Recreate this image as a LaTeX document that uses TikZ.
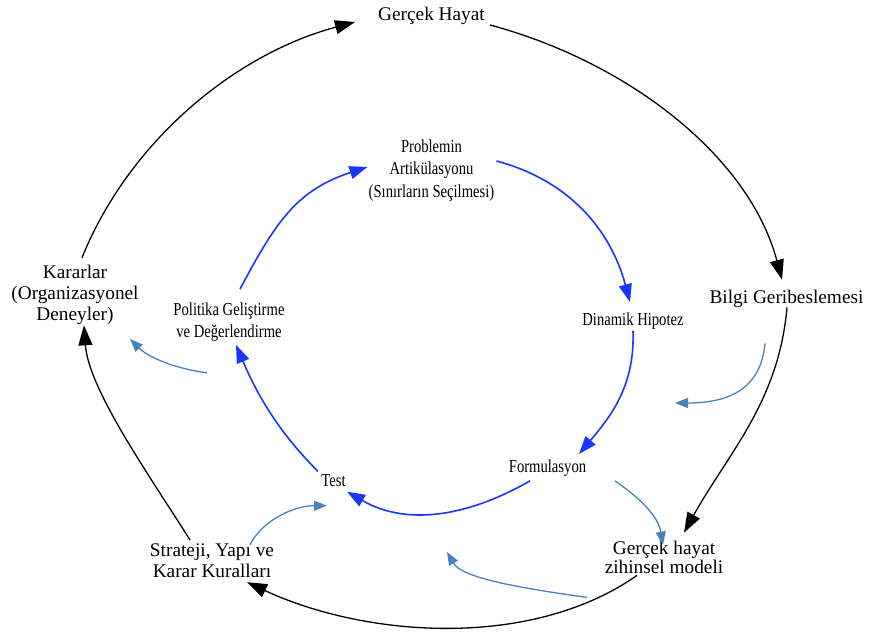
\documentclass[tikz,border=0pt]{standalone}
\usepackage{fontspec}
\setmainfont{Liberation Serif}
\newfontfamily\narrowserif[FakeStretch=0.8]{Liberation Serif}
\usetikzlibrary{arrows.meta}

\definecolor{loopblue}{RGB}{25,55,255}
\definecolor{feedblue}{RGB}{74,130,192}

\tikzset{
  outerlab/.style={font={\fontsize{19.3}{21}\selectfont}, align=center, inner sep=0pt},
  innerlab/.style={font={\narrowserif\fontsize{18.3}{22.5}\selectfont}, align=center, inner sep=0pt},
  outerloop/.style={draw=black, line width=1.3pt, -{Triangle[length=20pt,width=14pt]}},
  innerloop/.style={draw=loopblue, line width=1.6pt, -{Triangle[length=18pt,width=13pt]}},
  feedback/.style={draw=feedblue, line width=1.3pt, -{Triangle[length=13pt,width=10pt]}}
}

\begin{document}
\begin{tikzpicture}[x=1pt,y=1pt]
\useasboundingbox (0,0) rectangle (869,641);

% outer loop labels
\node[outerlab] (hayat)    at (431.5,625.5) {Gerçek Hayat};
\node[outerlab] (bilgi)    at (786.5,342.5) {Bilgi Geribeslemesi};
\node[outerlab, font={\fontsize{19.3}{19}\selectfont}] (zihin) at (664,84.1) {Gerçek hayat\\zihinsel modeli};
\node[outerlab] (strateji) at (212,80) {Strateji, Yapı ve\\Karar Kuralları};
\node[outerlab] (kararlar) at (75,346.5) {Kararlar\\(Organizasyonel\\Deneyler)};

% inner loop labels
\node[innerlab] (problem)  at (431.5,470.6) {Problemin\\Artikülasyonu\\(Sınırların Seçilmesi)};
\node[innerlab] (dinamik)  at (633,320) {Dinamik Hipotez};
\node[innerlab] (formul)   at (547.5,173) {Formulasyon};
\node[innerlab] (test)     at (333.5,160.6) {Test};
\node[innerlab] (politika) at (229,318.7) {Politika Geliştirme\\ve Değerlendirme};

% free ends of the feedback arrows
\coordinate (fbA) at (675,238);
\coordinate (fbB) at (447,89);
\coordinate (fbC) at (130,302);

% outer black loop
\draw[outerloop] ([shift={(7,6.8)}]kararlar.north)
  to[out=68,in=195,out distance=125pt,in distance=125pt] ([shift={(-23,-6.5)}]hayat.west);
\draw[outerloop] ([shift={(5,-9.5)}]hayat.east)
  to[out=-15,in=105,out distance=140pt,in distance=130pt] ([shift={(-4.5,9.8)}]bilgi.north);
\draw[outerloop] ([shift={(0.5,0)}]bilgi.south)
  to[out=-95,in=61,out distance=95pt,in distance=90pt] ([shift={(20,7.8)}]zihin.north);
\draw[outerloop] ([shift={(-27,-2)}]zihin.south)
  to[out=-145,in=-25,out distance=130pt,in distance=130pt] ([shift={(35,-4)}]strateji.south);
\draw[outerloop] ([shift={(-22,3.8)}]strateji.north)
  to[out=122,in=-86,out distance=70pt,in distance=65pt] ([shift={(9,-0.8)}]kararlar.south);

% inner blue loop
\draw[innerloop] ([shift={(2,9.4)}]problem.east)
  to[out=-15,in=105,out distance=75pt,in distance=75pt] ([shift={(-3,10.4)}]dinamik.north);
\draw[innerloop] ([shift={(0,-1.3)}]dinamik.south)
  to[out=-88,in=50,out distance=55pt,in distance=50pt] ([shift={(31.5,5.4)}]formul.north);
\draw[innerloop] ([shift={(-17.5,-4.3)}]formul.south)
  to[out=-150,in=-30,out distance=70pt,in distance=70pt] ([shift={(13.5,-5)}]test.south);
\draw[innerloop] ([shift={(-15.5,2.7)}]test.north)
  to[out=135,in=-67,out distance=55pt,in distance=55pt] ([shift={(7,-2.8)}]politika.south);
\draw[innerloop] ([shift={(11,13.4)}]politika.north)
  to[out=62,in=198,out distance=75pt,in distance=75pt] ([shift={(-1,3.4)}]problem.west);

% feedback arrows between the loops
\draw[feedback] ([shift={(-21.5,-35.8)}]bilgi.south)
  to[out=-95,in=0,out distance=45pt,in distance=55pt] (fbA);
\draw[feedback] ([shift={(67.5,-4.3)}]formul.south)
  to[out=-35,in=100,out distance=30pt,in distance=30pt] ([shift={(-1,-4.2)}]zihin.north);
\draw[feedback] ([shift={(-77,-24)}]zihin.south)
  to[out=172,in=-60,out distance=70pt,in distance=30pt] (fbB);
\draw[feedback] ([shift={(38,-1.2)}]strateji.north)
  to[out=65,in=180,out distance=25pt,in distance=35pt] ([shift={(-6.5,-19)}]test.south);
\draw[feedback] ([shift={(-22,-30.8)}]politika.south)
  to[out=172,in=-45,out distance=35pt,in distance=25pt] (fbC);
\end{tikzpicture}
\end{document}
